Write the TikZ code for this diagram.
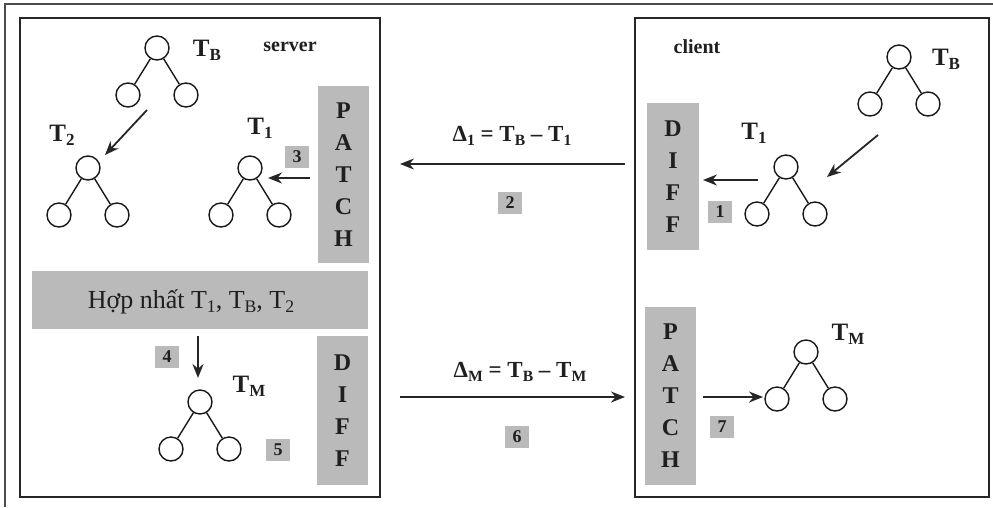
\documentclass[tikz,border=0pt]{standalone}
\usepackage{fontspec}
\setmainfont{Liberation Serif}
\usetikzlibrary{arrows.meta,calc}
\newcommand\lsub[1]{\raisebox{-0.35ex}{\scalebox{0.68}{#1}}}
\newcommand\fsz[1]{\fontsize{#1}{#1}\selectfont}
\newcommand\mytree[3]{%
  \node[circ] (#1r) at (#2,#3) {};
  \node[circ] (#1a) at ({#2-29},{#3+47}) {};
  \node[circ] (#1b) at ({#2+29},{#3+47}) {};
  \draw[tedge] (#1r) -- (#1a) (#1r) -- (#1b);}
\tikzset{
  panel/.style={draw=black!85, line width=1.7pt, inner sep=0pt},
  circ/.style={circle, draw=black!90, line width=1.4pt, minimum size=24pt, inner sep=0pt, fill=white},
  tedge/.style={line width=1.4pt, draw=black!90},
  arr/.style={-{Stealth[length=14pt,width=11pt]}, line width=1.8pt, draw=black!85},
  grayv/.style={fill=black!27, text=black!88, font=\fontsize{24}{32}\selectfont\bfseries, align=center, inner sep=0pt},
  num/.style={fill=black!27, text=black!88, minimum width=24pt, minimum height=22pt, inner sep=0pt, font=\fsz{18}\bfseries},
  lbl/.style={font=\fsz{25}\bfseries, text=black!88, inner sep=0pt},
  side/.style={font=\fsz{20}\bfseries, text=black!88, inner sep=0pt},
  delta/.style={font=\fsz{23}\bfseries, text=black!88, inner sep=0pt}
}
\begin{document}
\begin{tikzpicture}[x=1pt,y=-1pt]
\useasboundingbox (0,0) rectangle (993,507);
% outer frame lines
\coordinate (otl) at (5,4);
\coordinate (otr) at (993,4);
\coordinate (obl) at (5,507);
\draw[black!70, line width=1.3pt] (otr) -- (otl) -- (obl);
% panels
\node[panel, minimum width=360pt, minimum height=479pt] (server) at (200,257.5) {};
\node[panel, minimum width=354pt, minimum height=479pt] (client) at (812,257.5) {};
\node[side] (srvlbl) at (290,47) {server};
\node[side] (clilbl) at (697,47) {client};
% ---------- server side ----------
\mytree{sB}{157}{48}
\node[lbl] (sBl) at (207,50) {T\lsub{B}};
\mytree{sT}{88}{168}
\node[lbl] (sTl) at (62,135) {T\lsub{2}};
\mytree{sO}{250}{168}
\node[lbl] (sOl) at (260,128) {T\lsub{1}};
\node[grayv, minimum width=51pt, minimum height=177pt] (spatch) at (343.5,174.5) {P\\A\\T\\C\\H};
\node[num] (n3) at (297,157) {3};
\node[fill=black!27, minimum width=336pt, minimum height=58pt, inner sep=0pt] (merge) at (200,300) {};
\node[font=\fsz{26}, text=black!88, inner sep=0pt] (mergetxt) at (191,302) {Hợp nhất T\lsub{1}, T\lsub{B}, T\lsub{2}};
\node[num] (n4) at (167,357) {4};
\mytree{sM}{200}{402}
\node[lbl] (sMl) at (249,386) {T\lsub{M}};
\node[num] (n5) at (278,450) {5};
\node[grayv, minimum width=51pt, minimum height=149pt] (sdiff) at (342.5,410.5) {D\\I\\F\\F};
% server arrows
\coordinate (a1s) at (147,110);
\coordinate (a1e) at (105,155);
\draw[arr] (a1s) -- (a1e);
\coordinate (a2s) at (310,178);
\coordinate (a2e) at (268,178);
\draw[arr] (a2s) -- (a2e);
\coordinate (a3s) at (198,336);
\coordinate (a3e) at (198,378);
\draw[arr] (a3s) -- (a3e);
% ---------- middle ----------
\node[delta] (d1) at (512,136) {Δ\lsub{1} = T\lsub{B} – T\lsub{1}};
\coordinate (a4s) at (625,164);
\coordinate (a4e) at (400,164);
\draw[arr] (a4s) -- (a4e);
\node[num] (n2) at (510,203) {2};
\node[delta] (dm) at (520,372) {Δ\lsub{M} = T\lsub{B} – T\lsub{M}};
\coordinate (a5s) at (400,397);
\coordinate (a5e) at (625,397);
\draw[arr] (a5s) -- (a5e);
\node[num] (n6) at (517,437) {6};
% ---------- client side ----------
\mytree{cB}{899}{57}
\node[lbl] (cBl) at (946,59) {T\lsub{B}};
\mytree{cO}{786}{167}
\node[lbl] (cOl) at (754,133) {T\lsub{1}};
\node[grayv, minimum width=52pt, minimum height=147pt] (cdiff) at (673,176.5) {D\\I\\F\\F};
\node[num] (n1) at (720,212) {1};
\coordinate (a6s) at (878,135);
\coordinate (a6e) at (827,177);
\draw[arr] (a6s) -- (a6e);
\coordinate (a7s) at (758,180);
\coordinate (a7e) at (703,180);
\draw[arr] (a7s) -- (a7e);
\node[grayv, minimum width=51pt, minimum height=178pt] (cpatch) at (670.5,396) {P\\A\\T\\C\\H};
\mytree{cM}{806}{352}
\node[lbl] (cMl) at (848,334) {T\lsub{M}};
\node[num] (n7) at (722,427) {7};
\coordinate (a8s) at (703,397);
\coordinate (a8e) at (763,397);
\draw[arr] (a8s) -- (a8e);
\end{tikzpicture}
\end{document}
